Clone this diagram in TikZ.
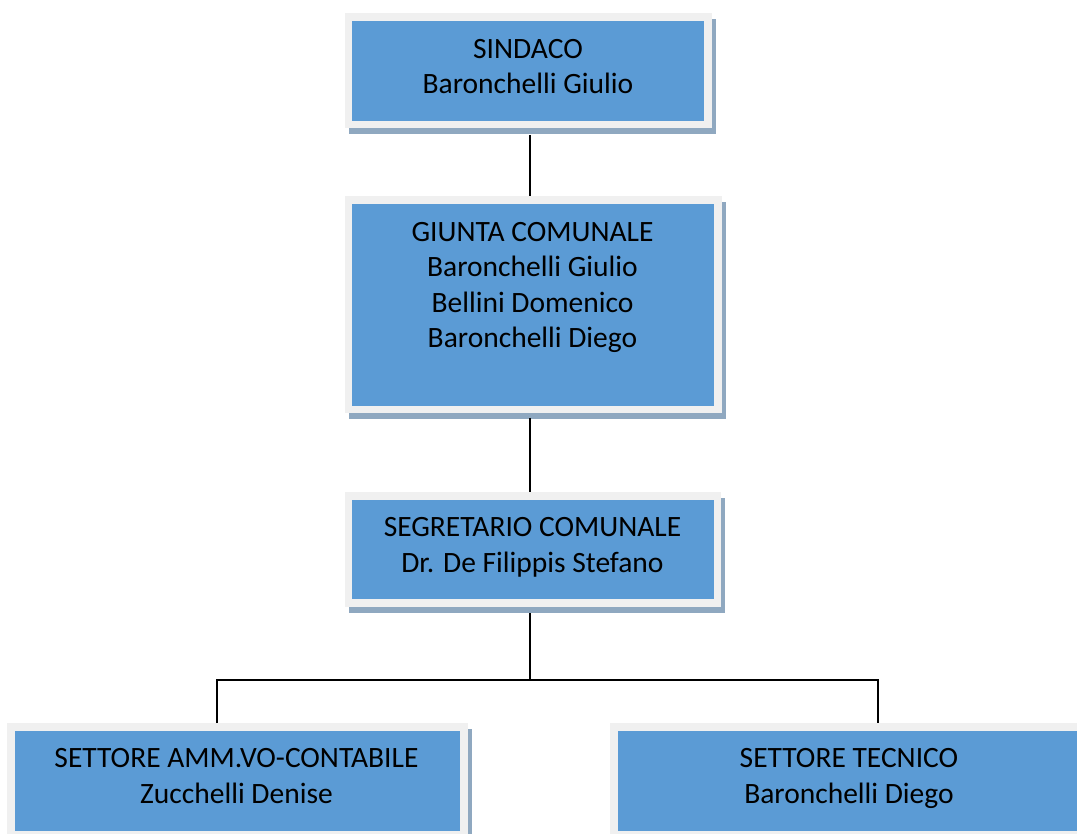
\documentclass[tikz,border=0pt]{standalone}
\usepackage{fontspec}
\setmainfont{Carlito}
\definecolor{boxblue}{HTML}{5B9BD5}
\definecolor{framegray}{HTML}{F0F0F0}
\definecolor{shadowc}{HTML}{8FA8C0}
\begin{document}
\begin{tikzpicture}[x=1pt,y=-1pt,
  frame/.style={fill=framegray, draw=none, inner sep=0pt, outer sep=0pt,
    preaction={fill=shadowc, transform canvas={shift={(3.5pt,-6pt)}}}},
  inner/.style={fill=boxblue, draw=none, inner sep=0pt, outer sep=0pt},
  label/.style={anchor=base, align=center, inner sep=0pt,
    font=\fontsize{29.5}{35.5}\selectfont},
  conn/.style={draw=black, line width=1.6pt}]
\useasboundingbox (0,0) rectangle (1077,834);
\fill[white] (0,0) rectangle (1077,834);
% trunk coordinates
\coordinate (trunk) at (530,0);
\coordinate (busL) at (217,680);
\coordinate (busR) at (878,680);
\coordinate (busM) at (530,680);
% boxes
\node[frame, minimum width=367pt, minimum height=115pt] (sindaco) at (528.5,70.5) {};
\node[inner, minimum width=352pt, minimum height=100pt] (sindacoIn) at (528,71) {};
\node[frame, minimum width=377pt, minimum height=217pt] (giunta) at (533.5,304.5) {};
\node[inner, minimum width=362pt, minimum height=202pt] (giuntaIn) at (533,305) {};
\node[frame, minimum width=376pt, minimum height=115pt] (segretario) at (533,549.5) {};
\node[inner, minimum width=362pt, minimum height=99pt] (segretarioIn) at (533,549.5) {};
\node[frame, minimum width=461pt, minimum height=122pt] (amm) at (237.5,784) {};
\node[inner, minimum width=445pt, minimum height=100pt] (ammIn) at (237.5,781) {};
\node[frame, minimum width=475pt, minimum height=122pt] (tecnico) at (847.5,784) {};
\node[inner, minimum width=462pt, minimum height=100pt] (tecnicoIn) at (849,781) {};
% connectors
\draw[conn] (sindaco.south -| trunk) ++(0,7) -- (giunta.north -| trunk);
\draw[conn] (giunta.south -| trunk) ++(0,5) -- (segretario.north -| trunk);
\draw[conn] (segretario.south -| trunk) ++(0,6) -- (busM);
\draw[conn] (amm.north -| busL) -- (busL) -- (busR) -- (tecnico.north -| busR);
% texts (base anchor = baseline of last line)
\node[label] (sindacoT) at (528,94) {SINDACO\\Baronchelli Giulio};
\node[label] (giuntaT) at (532.5,348) {GIUNTA COMUNALE\\Baronchelli Giulio\\Bellini Domenico\\Baronchelli Diego};
\node[label] (segretarioT) at (532.5,572) {SEGRETARIO COMUNALE\\Dr. De Filippis Stefano};
\node[label] (ammT) at (236.5,803) {SETTORE AMM.VO-CONTABILE\\Zucchelli Denise};
\node[label] (tecnicoT) at (849,803) {SETTORE TECNICO\\Baronchelli Diego};
\end{tikzpicture}
\end{document}
